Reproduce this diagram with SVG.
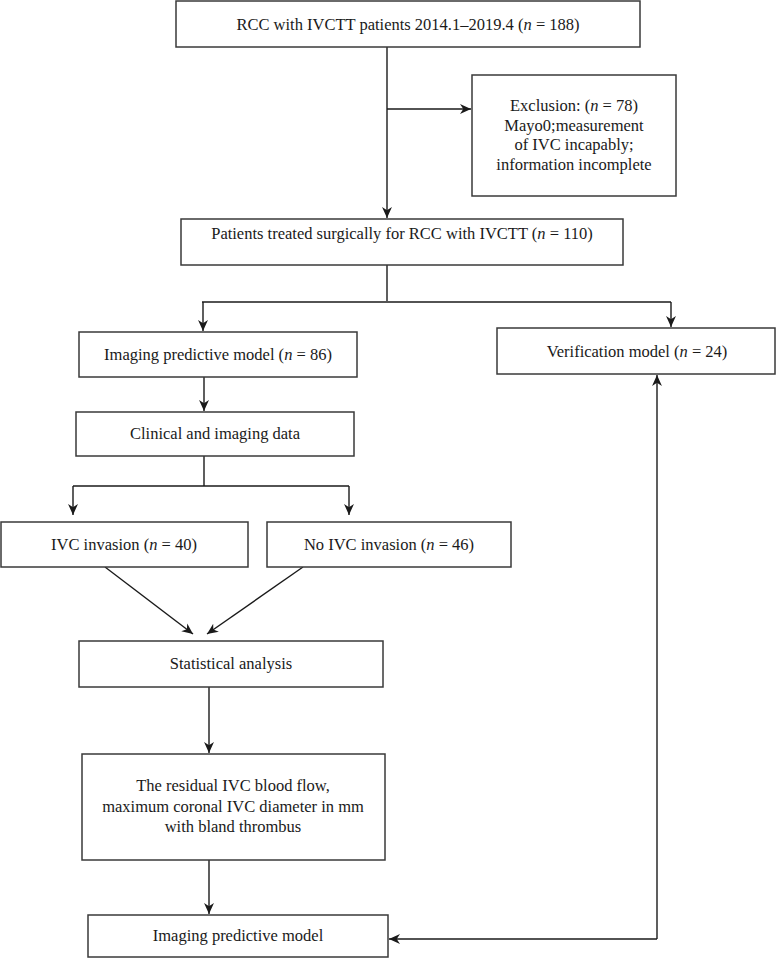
<svg xmlns="http://www.w3.org/2000/svg" width="777" height="958" viewBox="0 0 777 958">
<style>
.box{fill:#fff;stroke:#3a3a3a;stroke-width:1.5}
.t{font-family:"Liberation Serif","Times New Roman",serif;font-size:16.5px;fill:#1a1a1a;text-anchor:middle}
.i{font-style:italic}
.c{fill:none;stroke:#1a1a1a;stroke-width:1.4}
</style>
<defs>
<marker id="ah" viewBox="0 0 10 10" refX="10" refY="5" markerWidth="11" markerHeight="11" markerUnits="userSpaceOnUse" orient="auto">
<path d="M0,0.5 L10,5 L0,9.5 L3,5 Z" fill="#1a1a1a"/>
</marker>
</defs>
<rect width="777" height="958" fill="#fff"/>
<g id="connectors">
<path class="c" d="M387,47 V218" marker-end="url(#ah)"/>
<path class="c" d="M387,109 H471" marker-end="url(#ah)"/>
<path class="c" d="M387,265 V301"/>
<path class="c" d="M202,302 H671"/>
<path class="c" d="M203,302 V331" marker-end="url(#ah)"/>
<path class="c" d="M671,302 V327" marker-end="url(#ah)"/>
<path class="c" d="M204,377 V411" marker-end="url(#ah)"/>
<path class="c" d="M204,456 V486"/>
<path class="c" d="M73,486 H349"/>
<path class="c" d="M73,486 V515" marker-end="url(#ah)"/>
<path class="c" d="M349,486 V515" marker-end="url(#ah)"/>
<path class="c" d="M105,567 L193,634" marker-end="url(#ah)"/>
<path class="c" d="M303,567 L207,634" marker-end="url(#ah)"/>
<path class="c" d="M209,687 V753" marker-end="url(#ah)"/>
<path class="c" d="M209,860 V914" marker-end="url(#ah)"/>
<path class="c" d="M657,939 V375" marker-end="url(#ah)"/>
<path class="c" d="M657,939 H389" marker-end="url(#ah)"/>
</g>
<g id="n1"><rect class="box" x="176" y="1" width="464" height="46"/>
<text class="t" x="408" y="30">RCC with IVCTT patients 2014.1–2019.4 (<tspan class="i">n</tspan> = 188)</text></g>
<g id="n2"><rect class="box" x="472" y="75" width="204" height="121"/>
<text class="t" x="574" y="111">Exclusion: (<tspan class="i">n</tspan> = 78)</text>
<text class="t" x="574" y="131">Mayo0;measurement</text>
<text class="t" x="574" y="150">of IVC incapably;</text>
<text class="t" x="574" y="170">information incomplete</text></g>
<g id="n3"><rect class="box" x="181" y="219" width="442" height="46"/>
<text class="t" x="402" y="239">Patients treated surgically for RCC with IVCTT (<tspan class="i">n</tspan> = 110)</text></g>
<g id="n4"><rect class="box" x="79" y="332" width="278" height="45"/>
<text class="t" x="218" y="360">Imaging predictive model (<tspan class="i">n</tspan> = 86)</text></g>
<g id="n5"><rect class="box" x="497" y="328" width="278" height="46"/>
<text class="t" x="637" y="357">Verification model (<tspan class="i">n</tspan> = 24)</text></g>
<g id="n6"><rect class="box" x="76" y="412" width="278" height="44"/>
<text class="t" x="215" y="439">Clinical and imaging data</text></g>
<g id="n7"><rect class="box" x="1" y="522" width="247" height="45"/>
<text class="t" x="124" y="550">IVC invasion (<tspan class="i">n</tspan> = 40)</text></g>
<g id="n8"><rect class="box" x="267" y="522" width="244" height="45"/>
<text class="t" x="389" y="550">No IVC invasion (<tspan class="i">n</tspan> = 46)</text></g>
<g id="n9"><rect class="box" x="79" y="641" width="304" height="46"/>
<text class="t" x="231" y="669">Statistical analysis</text></g>
<g id="n10"><rect class="box" x="82" y="754" width="303" height="106"/>
<text class="t" x="233" y="791">The residual IVC blood flow,</text>
<text class="t" x="233" y="812">maximum coronal IVC diameter in mm</text>
<text class="t" x="233" y="832">with bland thrombus</text></g>
<g id="n11"><rect class="box" x="88" y="915" width="300" height="42"/>
<text class="t" x="238" y="941">Imaging predictive model</text></g>
</svg>
